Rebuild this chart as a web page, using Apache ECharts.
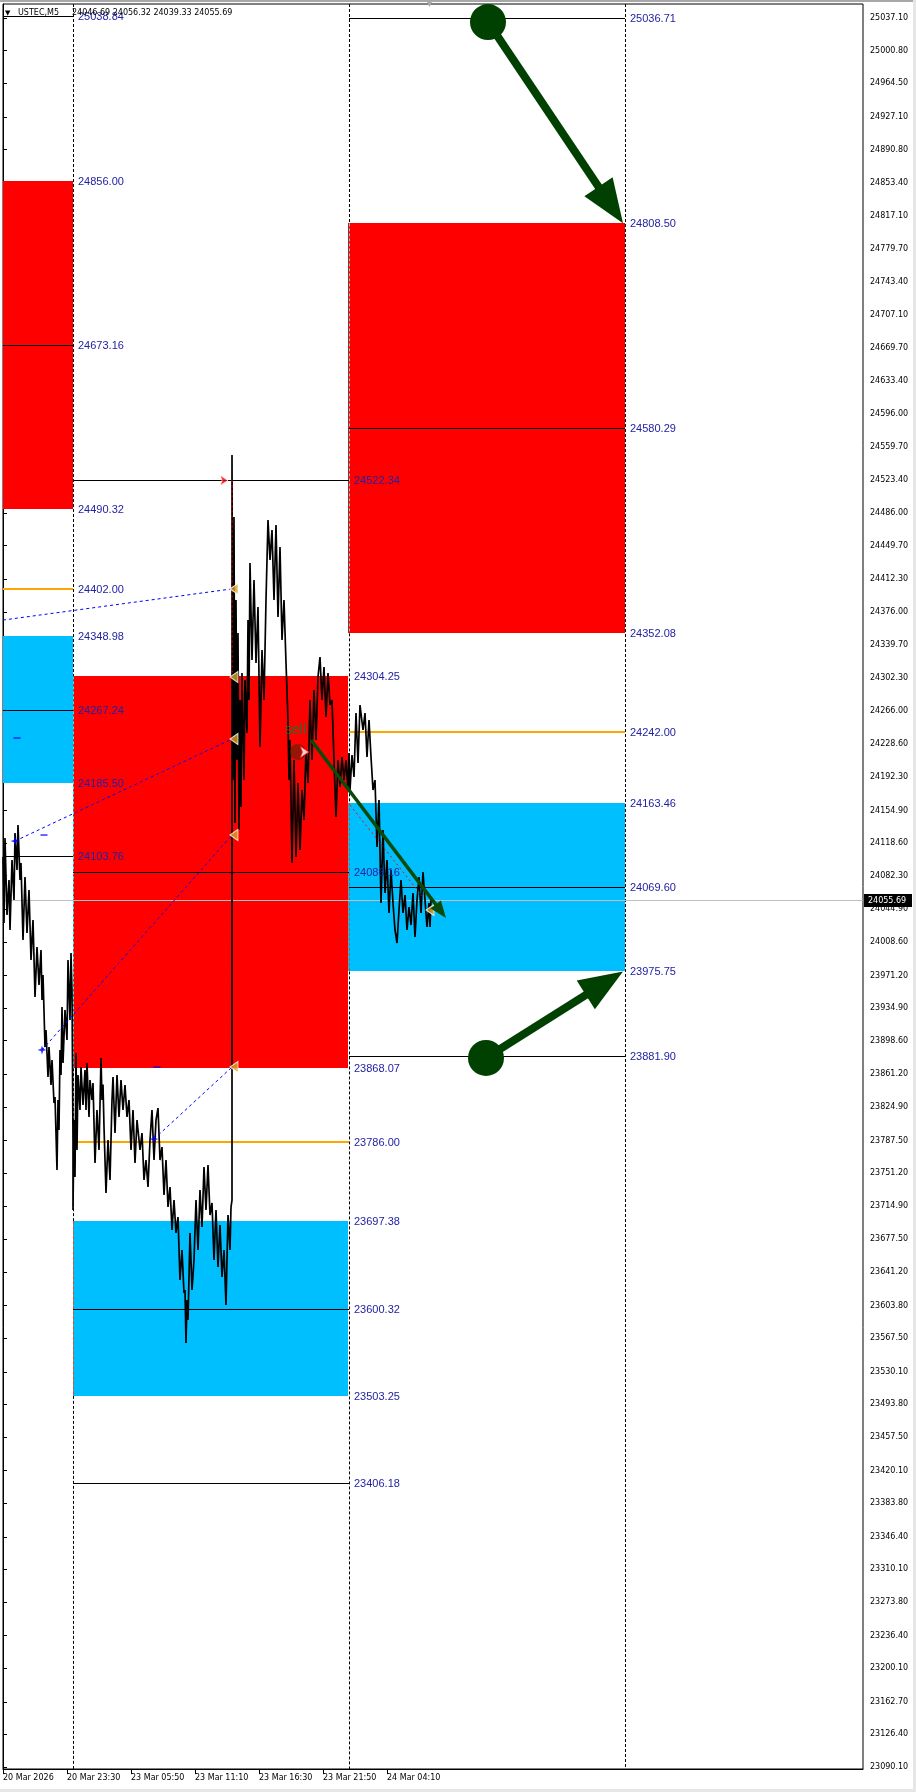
<!DOCTYPE html>
<html><head><meta charset="utf-8">
<script src="https://cdn.jsdelivr.net/npm/echarts@6/dist/echarts.min.js"></script>
<style>html,body{margin:0;padding:0;background:#fff}#c{width:916px;height:1792px}</style>
</head><body><div id="c"></div>
<script>
// ---------- data ----------
const symbolName = 'USTEC,M5';
const lastBar = [24046.69, 24056.32, 24039.33, 24055.69];
const lastClose = 24055.69;
const timeLabels = ['20 Mar 2026','20 Mar 23:30','23 Mar 05:50','23 Mar 11:10','23 Mar 16:30','23 Mar 21:50','24 Mar 04:10'];
const timeTickIdx = [0, 64, 128, 192, 256, 320, 384];
const priceTicks = [25037.10,25000.80,24964.50,24927.10,24890.80,24853.40,24817.10,24779.70,24743.40,24707.10,24669.70,24633.40,24596.00,24559.70,24523.40,24486.00,24449.70,24412.30,24376.00,24339.70,24302.30,24266.00,24228.60,24192.30,24154.90,24118.60,24082.30,24044.90,24008.60,23971.20,23934.90,23898.60,23861.20,23824.90,23787.50,23751.20,23714.90,23677.50,23641.20,23603.80,23567.50,23530.10,23493.80,23457.50,23420.10,23383.80,23346.40,23310.10,23273.80,23236.40,23200.10,23162.70,23126.40,23090.10];
const priceMin = 23087.9, priceMax = 25052.7, barMax = 860;

// price trace (bar index, price), highs and lows
const traceIdx = [0,1,2,4,6,7,9,11,12,14,15,17,18,20,22,24,26,28,30,32,34,36,38,39,40,42,43,45,46,48,49,51,52,54,55,56,57,58,59,60,62,64,65,67,68,69,
70,70,71,72,73,74,75,77,78,80,82,83,84,86,87,89,90,92,94,96,98,99,100,101,103,105,107,109,110,112,114,116,118,120,122,124,126,128,130,132,134,137,139,141,143,145,147,149,151,153,155,157,159,161,163,165,167,169,171,173,175,177,179,181,182,183,184,185,187,189,191,193,195,197,199,201,203,205,207,209,211,213,215,217,219,221,223,225,227,228,
229,229,230,231,232,233,234,235,236,237,238,239,241,242,244,245,246,247,249,251,253,255,257,259,261,263,265,267,269,271,273,275,277,279,281,283,285,286,287,289,291,293,295,297,299,301,303,305,307,309,311,313,315,317,319,321,323,325,327,329,331,333,335,337,339,341,343,345,
346,347,349,351,353,355,357,358,360,362,364,366,368,370,372,374,376,378,380,382,384,386,388,390,392,394,396,398,400,402,404,406,408,410,412,414,416,418,420,422,424,426,427,428];
const tracePrice = [24103.1,24029.6,24124.3,24038.6,24077.5,24021.9,24099.8,24055.3,24129.8,24088.7,24138.7,24077.5,24096.4,24010.7,24080.9,24018.5,24066.4,23988.5,24033.0,23947.3,24002.9,23960.6,23999.6,23943.9,23971.8,23891.6,23910.5,23858.2,23891.6,23849.3,23877.1,23829.3,23836.0,23754.7,23832.6,23799.2,23888.3,23860.4,23936.1,23873.8,23932.8,23899.4,23988.5,23921.7,23996.3,23955.1,
23785.9,23710.2,23810.3,23746.9,23884.9,23777.0,23860.4,23821.5,23869.3,23827.0,23866.0,23821.5,23873.8,23813.7,23854.9,23832.6,23851.5,23762.5,23821.5,23777.0,23879.4,23832.6,23850.0,23802.6,23729.1,23788.1,23743.6,23832.6,23858.2,23795.9,23860.4,23813.7,23854.9,23821.5,23849.3,23813.7,23832.6,23777.0,23821.5,23762.5,23810.3,23777.0,23795.9,23743.6,23765.8,23735.8,23788.1,23821.5,23765.8,23810.3,23823.7,23765.8,23780.3,23726.9,23765.8,23713.5,23735.8,23687.9,23721.3,23684.6,23702.4,23632.2,23665.6,23617.8,23621.1,23562.1,23610.0,23587.7,23684.6,23621.1,23654.5,23721.3,23665.6,23732.4,23691.2,23758.0,23710.2,23760.3,23704.6,23718.0,23654.5,23710.2,23646.7,23693.5,23635.6,23665.6,23604.4,23704.6,23665.6,23713.5,
23721.3,24550.6,24188.8,24481.6,24141.0,24389.2,24211.1,24352.5,24133.2,24277.9,24158.8,24308.0,24188.8,24300.2,24241.2,24367.0,24277.9,24430.4,24322.4,24411.5,24319.1,24381.4,24225.6,24333.6,24277.9,24389.2,24478.3,24433.7,24467.1,24389.2,24472.7,24370.3,24448.2,24344.7,24389.2,24319.1,24255.6,24188.8,24233.4,24096.4,24211.1,24103.1,24185.5,24110.9,24177.7,24144.3,24222.2,24185.5,24277.9,24211.1,24289.0,24233.4,24303.5,24325.8,24277.9,24314.6,24259.0,24308.0,24272.3,24277.9,24211.1,24147.6,24211.1,24181.0,24214.4,24188.8,24211.1,24177.7,
24218.9,24177.7,24216.7,24192.2,24263.4,24207.8,24272.3,24273.4,24244.5,24263.4,24214.4,24255.6,24214.4,24177.7,24188.8,24114.3,24166.6,24051.9,24133.2,24063.0,24099.8,24040.8,24088.7,24051.9,24021.9,24007.4,24044.1,24077.5,24040.8,24060.8,24021.9,24047.5,24027.4,24063.0,24014.1,24055.3,24080.9,24040.8,24086.4,24055.3,24025.2,24051.9,24025.2,24055.69];

// zones: [fromBar, toBar, low, high]
const redZones = [[0,70,24490.32,24856.00],[70,345,23868.07,24304.25],[345,622,24352.08,24808.50]];
const blueZones = [[0,70,24185.50,24348.98],[70,345,23503.25,23697.38],[345,622,23975.75,24163.46]];
// level lines: [fromBar, toBar, price]
const blackLevels = [[0,70,25038.84],[0,70,24673.16],[0,70,24267.24],[0,70,24103.76],
  [70,346,24522.34],[70,346,24086.16],[70,346,23600.32],[70,346,23406.18],
  [346,622,25036.71],[346,622,24580.29],[346,622,24069.60],[346,622,23881.90]];
const orangeLevels = [[0,70,24402.00],[70,346,23786.00],[346,622,24242.00]];
const sepLines = [70, 346, 622];
const leftLabels = [25038.84,24856.00,24673.16,24490.32,24402.00,24348.98,24267.24,24185.50,24103.76];
const midLabels = [24522.34,24304.25,24086.16,23868.07,23786.00,23697.38,23600.32,23503.25,23406.18];
const rightLabels = [25036.71,24808.50,24580.29,24352.08,24242.00,24163.46,24069.60,23975.75,23881.90];
// zigzag links [bar1, price1, bar2, price2]
const zigzagLinks = [[0,24366.9,229,24401.6],[12,24120.9,229,24234.5],[39,23888.3,229,24127.6],[151,23789.2,229,23869.3]];
const signalLinks = [[229,24522.34,229,24303.5],[347,24161.0,420,24058.6]];
const zigzagPoints = [[12,24120.9],[39,23888.3],[151,23789.2]];
const zigzagDashes = [[14,24235.6],[41,24127.6],[154,23869.3]];
const goldMarks = [[231,24401.6],[231,24303.5],[231,24234.5],[231,24127.6],[231,23869.3],[427,24044.1]];
const bigArrows = [[485,25032.6,620,24808.5],[483,23879.4,620,23975.75]];
const smallArrows = [[308,24233.4,443,24035.2]];
const sellDot = [[295,24220.0]];
const sellMarks = [[306,24220.0]];
const topMark = [[225,24522.34]];
const signalText = [{x:282, p:24244.5, t:'sell'}];

// ---------- helpers ----------
const crisp = v => Math.round(v) + 0.5;
const FONT_AX = 'DejaVu Sans';
const FONT_LB = 'Liberation Sans';

function zoneSeries(zones, color) {
  return {type:'custom', z:1, silent:true, data:zones, encode:{x:[0,1], y:[2,3]},
    renderItem:(p, api) => {
      const a = api.coord([api.value(0), api.value(3)]);
      const b = api.coord([api.value(1), api.value(2)]);
      const x = Math.round(a[0]), y = Math.round(a[1]);
      return {type:'rect', shape:{x, y, width:Math.round(b[0]) - x, height:Math.round(b[1]) - y}, style:{fill:color}};
    }};
}
function levelSeries(levels, color, width, z) {
  return {type:'custom', z:z || 3, silent:true, data:levels, encode:{x:[0,1], y:2},
    renderItem:(p, api) => {
      const a = api.coord([api.value(0), api.value(2)]);
      const b = api.coord([api.value(1), api.value(2)]);
      const y = width % 2 ? crisp(a[1]) : Math.round(a[1]);
      return {type:'line', shape:{x1:a[0], y1:y, x2:b[0], y2:y}, style:{stroke:color, lineWidth:width}};
    }};
}
function linkSeries(links, color, dash, z) {
  return {type:'custom', z:z || 5, silent:true, data:links, encode:{x:[0,2], y:[1,3]},
    renderItem:(p, api) => {
      const a = api.coord([api.value(0), api.value(1)]);
      const b = api.coord([api.value(2), api.value(3)]);
      return {type:'line', shape:{x1:a[0], y1:a[1], x2:b[0], y2:b[1]}, style:{stroke:color, lineWidth:1, lineDash:dash}};
    }};
}
// separator segments coloured like MT4's inverted dotted pen
const sepSegs = [], sepColors = [];
sepLines.forEach(x => {
  const covers = [];
  redZones.forEach(zz => { if (zz[0] <= x && x < zz[1]) covers.push([zz[2], zz[3], '#00ffff']); });
  blueZones.forEach(zz => { if (zz[0] <= x && x < zz[1]) covers.push([zz[2], zz[3], '#ff4000']); });
  covers.sort((a, b) => a[0] - b[0]);
  let cur = priceMin;
  covers.forEach(c => {
    if (c[0] > cur) { sepSegs.push([x, cur, c[0]]); sepColors.push('#000'); }
    sepSegs.push([x, c[0], c[1]]); sepColors.push(c[2]); cur = c[1];
  });
  if (cur < priceMax) { sepSegs.push([x, cur, priceMax]); sepColors.push('#000'); }
});
function arrowSeries(arrows, o) {
  return {type:'custom', z:8, silent:true, data:arrows, encode:{x:[0,2], y:[1,3]},
    renderItem:(p, api) => {
      const s = api.coord([api.value(0), api.value(1)]), e = api.coord([api.value(2), api.value(3)]);
      const dx = e[0] - s[0], dy = e[1] - s[1], L = Math.hypot(dx, dy), ux = dx / L, uy = dy / L;
      const bx = e[0] - ux * o.head, by = e[1] - uy * o.head;
      const px = -uy * o.headW / 2, py = ux * o.headW / 2;
      const ch = [
        {type:'line', shape:{x1:s[0], y1:s[1], x2:bx + ux * 3, y2:by + uy * 3}, style:{stroke:o.color, lineWidth:o.width}},
        {type:'polygon', shape:{points:[[e[0], e[1]], [bx + px, by + py], [bx - px, by - py]]}, style:{fill:o.color}}
      ];
      if (o.r) ch.push({type:'circle', shape:{cx:s[0], cy:s[1], r:o.r}, style:{fill:o.color}});
      return {type:'group', children:ch};
    }};
}
function labelSeries(xBar, values) {
  return {type:'custom', z:9, silent:true, data:values.map(v => [xBar, v]),
    renderItem:(p, api) => {
      const c = api.coord([api.value(0), api.value(1)]);
      return {type:'text', x:Math.round(c[0]) + 5, y:Math.round(c[1]) + 0.5,
        style:{text:api.value(1).toFixed(2), fill:'#2222a2', fontSize:11, fontFamily:FONT_LB, align:'left', verticalAlign:'middle'}};
    }};
}

const chart = echarts.init(document.getElementById('c'), null, {renderer:'canvas'});
chart.setOption({
  animation:false,
  backgroundColor:'#fff',
  grid:{left:3, right:53, top:4, bottom:23, show:true, borderColor:'#000', borderWidth:1, backgroundColor:'#fff'},
  xAxis:{type:'value', min:0, max:barMax,
    axisLine:{show:true, lineStyle:{color:'#000', width:1}},
    axisTick:{show:true, customValues:timeTickIdx, length:5, lineStyle:{color:'#000'}},
    axisLabel:{customValues:timeTickIdx, formatter:v => timeLabels[timeTickIdx.indexOf(v)] || '', align:'left', margin:5,
      fontFamily:FONT_AX, fontSize:8, color:'#000'},
    splitLine:{show:false}},
  yAxis:{type:'value', position:'right', min:priceMin, max:priceMax,
    axisLine:{show:true, lineStyle:{color:'#000', width:1}},
    axisTick:{show:true, customValues:priceTicks, length:4, lineStyle:{color:'#000'}},
    axisLabel:{customValues:priceTicks, formatter:v => v.toFixed(2), margin:7, fontFamily:FONT_AX, fontSize:8, color:'#000'},
    splitLine:{show:false}},
  graphic:[
    {type:'rect', z:100, shape:{x:0, y:0, width:916, height:2}, style:{fill:'#a8a8a8'}},
    {type:'rect', z:100, shape:{x:913, y:0, width:3, height:1792}, style:{fill:'#e6e6e6'}},
    {type:'rect', z:100, shape:{x:0, y:1789, width:916, height:3}, style:{fill:'#e6e6e6'}},
    {type:'text', z:100, x:426, y:-1, style:{text:'▼', fill:'#a8a8a8', fontSize:9, fontFamily:FONT_AX}},
    {type:'text', z:100, x:5, y:13, style:{text:'▼', fill:'#000', fontSize:7, fontFamily:FONT_AX, verticalAlign:'middle'}},
    {type:'text', z:100, x:18, y:13, style:{text:symbolName, fill:'#000', fontSize:8, fontFamily:FONT_AX, verticalAlign:'middle'}},
    {type:'text', z:100, x:72, y:13, style:{text:lastBar.map(v => v.toFixed(2)).join(' '), fill:'#000', fontSize:8, fontFamily:FONT_AX, verticalAlign:'middle'}}
  ],
  series:[
    zoneSeries(redZones, '#ff0000'),
    zoneSeries(blueZones, '#00bfff'),
    {type:'custom', z:2, silent:true, data:sepSegs, encode:{x:0, y:[1,2]},
      renderItem:(p, api) => {
        const a = api.coord([api.value(0), api.value(2)]), b = api.coord([api.value(0), api.value(1)]);
        const x = crisp(a[0]);
        return {type:'line', shape:{x1:x, y1:a[1], x2:x, y2:b[1]}, style:{stroke:sepColors[p.dataIndex], lineWidth:1, lineDash:[3,2]}};
      }},
    levelSeries([[0, barMax, lastClose]], '#c0c0c0', 1, 2),
    levelSeries(blackLevels, '#000', 1, 3),
    levelSeries(orangeLevels, '#ffa500', 2, 3),
    {type:'line', z:4, data:traceIdx.map((x, i) => [x, tracePrice[i]]), symbol:'none', clip:true,
      lineStyle:{color:'#000', width:1.7}},
    linkSeries(zigzagLinks, '#0000ff', [3,3], 5),
    linkSeries(signalLinks, '#ff0000', [2,3], 5),
    {type:'scatter', z:6, silent:true, data:zigzagPoints, symbol:'path://M4,0 L5,3 L8,4 L5,5 L4,8 L3,5 L0,4 L3,3 Z', symbolSize:9, itemStyle:{color:'#0000ff'}},
    {type:'scatter', z:6, silent:true, data:zigzagDashes, symbol:'rect', symbolSize:[7,1.5], itemStyle:{color:'#0000ff'}},
    {type:'scatter', z:6, silent:true, data:goldMarks, symbol:'triangle', symbolRotate:90, symbolSize:[11,8], itemStyle:{color:'#daa520', borderColor:'#fff', borderWidth:1}},
    {type:'scatter', z:6, silent:true, data:sellDot, symbol:'circle', symbolSize:16, itemStyle:{color:'#7a1c06'}},
    {type:'scatter', z:7, silent:true, data:sellMarks, symbol:'arrow', symbolRotate:-90, symbolSize:[9,9], itemStyle:{color:'#fff', borderColor:'#ff0000', borderWidth:1}},
    {type:'scatter', z:7, silent:true, data:topMark, symbol:'arrow', symbolRotate:-90, symbolSize:[8,8], itemStyle:{color:'#ff0000', borderColor:'#fff', borderWidth:1}},
    {type:'custom', z:7, silent:true, data:signalText.map(s => [s.x, s.p]),
      renderItem:(p, api) => {
        const c = api.coord([api.value(0), api.value(1)]);
        return {type:'text', x:c[0], y:c[1], style:{text:signalText[p.dataIndex].t, fill:'#2a6a2a', fontSize:14, fontFamily:FONT_LB, align:'left', verticalAlign:'middle'}};
      }},
    arrowSeries(bigArrows, {color:'#004000', width:8, head:44, headW:34, r:18}),
    arrowSeries(smallArrows, {color:'#0a4a0a', width:3.5, head:17, headW:13}),
    labelSeries(70, leftLabels),
    labelSeries(346, midLabels),
    labelSeries(622, rightLabels),
    {type:'custom', z:20, silent:true, data:[[barMax, lastClose]],
      renderItem:(p, api) => {
        const c = api.coord([api.value(0), api.value(1)]);
        const y = Math.round(c[1]);
        return {type:'group', children:[
          {type:'rect', shape:{x:Math.round(c[0]) + 1, y:y - 6, width:48, height:13}, style:{fill:'#000'}},
          {type:'text', x:Math.round(c[0]) + 5, y:y + 0.5, style:{text:api.value(1).toFixed(2), fill:'#fff', fontSize:8, fontFamily:FONT_AX, verticalAlign:'middle'}}
        ]};
      }}
  ]
});
</script></body></html>
